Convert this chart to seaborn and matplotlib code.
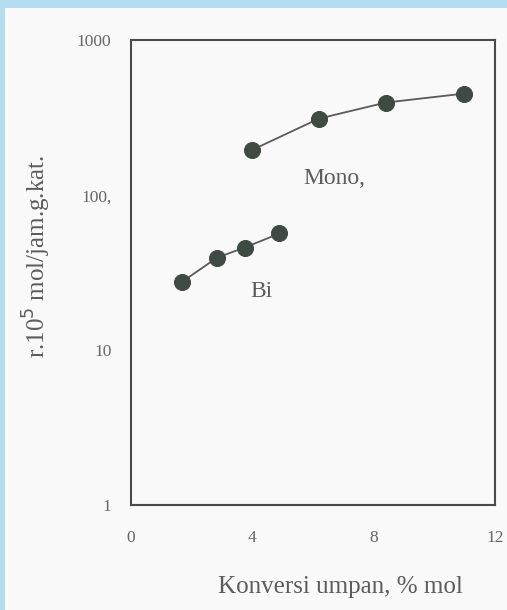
import numpy as np
import pandas as pd
import matplotlib
matplotlib.use("Agg")
import matplotlib.pyplot as plt
from matplotlib.patches import Rectangle
import seaborn as sns

# data
mono_x = [4.0, 6.2, 8.4, 11.0]
mono_y = [196, 312, 396, 453]
bi_x = [1.7, 2.85, 3.75, 4.9]
bi_y = [27.7, 39.6, 45.9, 56.6]

x_ticks = [0, 4, 8, 12]
y_ticks = [1, 10, 100, 1000]
y_tick_labels = ['1', '10', '100,', '1000']

df = pd.concat([
    pd.DataFrame({'x': mono_x, 'y': mono_y, 'seri': 'Mono'}),
    pd.DataFrame({'x': bi_x, 'y': bi_y, 'seri': 'Bi'}),
])

sns.set_style('white')
plt.rcParams['font.family'] = ['Liberation Serif', 'DejaVu Serif']

ink = '#4a4a4a'
txt = '#5c5c5c'
fig = plt.figure(figsize=(5.07, 6.10), dpi=100, facecolor='#f8f9f8')
# light blue scan border, top and left
fig.patches.append(Rectangle((0, 1 - 8 / 610), 1, 8 / 610, transform=fig.transFigure,
                             facecolor='#b3dcf0', edgecolor='none', zorder=-5))
fig.patches.append(Rectangle((0, 0), 5 / 507, 1, transform=fig.transFigure,
                             facecolor='#b3dcf0', edgecolor='none', zorder=-5))
ax = fig.add_axes([0.258, 0.172, 0.718, 0.762])
ax.set_facecolor('#f8f9f8')

for name in ['Mono', 'Bi']:
    sub = df[df['seri'] == name]
    sns.lineplot(data=sub, x='x', y='y', ax=ax, color='#5a5a5a', linewidth=1.3,
                 marker='o', markersize=11.5, markerfacecolor='#3e4a42',
                 markeredgecolor='#3e4a42', legend=False)

ax.set_yscale('log')
ax.set_xlim(0, 12)
ax.set_ylim(1, 1000)
ax.set_xticks(x_ticks)
ax.set_yticks(y_ticks)
ax.set_yticklabels(y_tick_labels)
ax.minorticks_off()
ax.tick_params(axis='both', direction='in', length=7, width=1.2, color=ink,
               labelcolor='#666666', labelsize=12.5)
ax.tick_params(axis='y', pad=14)
ax.tick_params(axis='x', pad=18)

for s in ax.spines.values():
    s.set_color(ink)
    s.set_linewidth(1.5)
    s.set_visible(True)

ax.text(5.7, 129, 'Mono,', fontsize=17, color=txt, ha='left', va='center')
ax.text(3.93, 23.8, 'Bi', fontsize=17, color=txt, ha='left', va='center')

ax.set_xlabel('Konversi umpan, % mol', fontsize=18, color=txt)
ax.xaxis.set_label_coords(0.575, -0.152)
ax.set_ylabel('r.10$^5$ mol/jam.g.kat.', fontsize=18, color=txt)
ax.yaxis.set_label_coords(-0.215, 0.535)

fig.savefig('out.png', dpi=100, facecolor=fig.get_facecolor())
